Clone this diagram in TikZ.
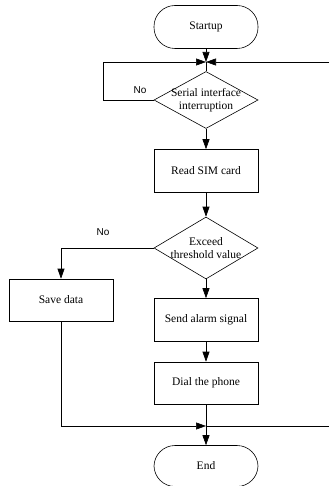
\documentclass[tikz,border=0pt]{standalone}
\usepackage{fontspec}
\setmainfont{Liberation Serif}
\newfontfamily\labelfont{Liberation Sans}
\usetikzlibrary{arrows.meta,shapes.geometric}

\begin{document}
\begin{tikzpicture}[x=1pt,y=-1pt,
 line width=0.6pt,
 box/.style={draw,minimum width=104pt,minimum height=43pt,
 font=\fontsize{11.5}{13}\selectfont,inner sep=2pt},
 term/.style={box,rounded corners=21pt},
 decision/.style={draw,diamond,inner sep=0pt,minimum width=104pt},
 nolabel/.style={font=\labelfont\fontsize{10}{12}\selectfont},
 >={Triangle[length=10pt,width=7pt]}]
\useasboundingbox (0,0) rectangle (329,486);
\node[term] (start) at (206,27) {Startup};
\coordinate (junc) at (206,62);
\coordinate (loopL) at (103,62);
\coordinate (topR) at (329,62);
\node[decision,minimum height=57pt,
 label={[align=center,font=\fontsize{11.5}{13}\selectfont]center:Serial interface\\interruption}]
 (serial) at (206,100) {};
\node[box] (sim) at (206,171) {Read SIM card};
\node[decision,minimum height=62pt,
 label={[align=center,font=\fontsize{11.5}{13}\selectfont]center:Exceed\\threshold value}]
 (exceed) at (206,248) {};
\node[box,minimum height=42pt] (save) at (61,300) {Save data};
\node[box] (alarm) at (206,320) {Send alarm signal};
\node[box,minimum height=42pt] (dial) at (206,383) {Dial the phone};
\coordinate (junc2) at (206,426);
\coordinate (botR) at (329,426);
\node[term,minimum height=41pt] (end) at (206,466) {End};
\draw[->] (start) -- (junc);
\draw (junc) -- (serial.north);
\draw[->] (serial.west) -- (serial.west -| loopL) -- (loopL) -- (junc);
\draw[->] (topR) -- (junc);
\node[nolabel] (no1) at (140,90) {No};
\draw[->] (serial.south) -- (sim.north);
\draw[->] (sim.south) -- (exceed.north);
\draw[->] (exceed.west) -| (save.north);
\node[nolabel] (no2) at (103,232) {No};
\draw[->] (exceed.south) -- (alarm.north);
\draw[->] (alarm.south) -- (dial.north);
\draw (dial.south) -- (junc2);
\draw[->] (save.south) |- (junc2);
\draw (junc2) -- (botR);
\draw[->] (junc2) -- (end.north);
\end{tikzpicture}
\end{document}
